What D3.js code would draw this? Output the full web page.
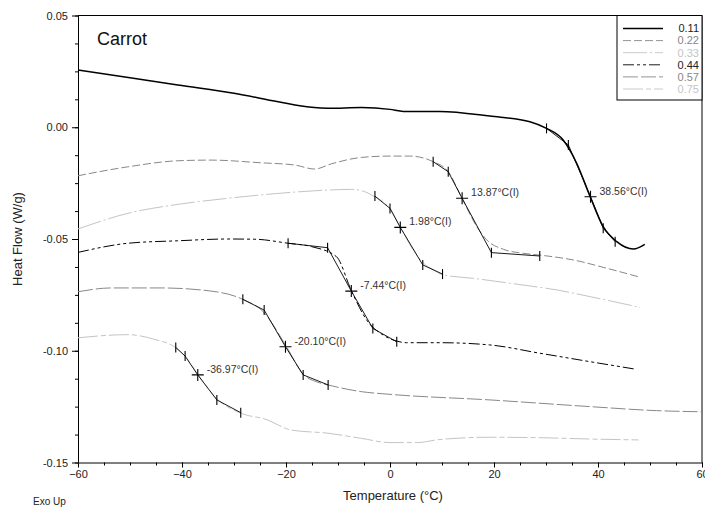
<!DOCTYPE html>
<html>
<head>
<meta charset="utf-8">
<script src="https://cdn.jsdelivr.net/npm/d3@7"></script>
<style>
  body { margin: 0; background: #fff; }
  svg { font-family: "Liberation Sans", Arial, sans-serif; }
</style>
</head>
<body>
<div class="container"></div>
<script>
"use strict";

// legend labels (water activity) and line looks
const seriesNames = ["0.11", "0.22", "0.33", "0.44", "0.57", "0.75"];

// curves: [temperature °C, heat flow W/g]
const c011 = [[-60, 0.0256], [-50, 0.0222], [-40.8, 0.0189], [-30, 0.0152], [-21.5, 0.0114], [-15.1, 0.0089], [-11.9, 0.0085], [-5.5, 0.0088], [0, 0.008], [2.6, 0.0071], [9.6, 0.0071], [19.2, 0.005], [26.9, 0.0025], [30.1, -0.0005], [33.3, -0.0057], [35.9, -0.0161], [38.5, -0.0311], [41.0, -0.0445], [43.6, -0.0512], [46.8, -0.0545], [49.0, -0.0524]];
const c022 = [[-60, -0.0217], [-50.4, -0.0177], [-40.8, -0.015], [-34.4, -0.0147], [-24.8, -0.0159], [-18.3, -0.0169], [-14.5, -0.0187], [-11.3, -0.0164], [-5.5, -0.0135], [0, -0.0129], [3.8, -0.0129], [8.3, -0.0154], [11.2, -0.0199], [13.85, -0.0318], [16.7, -0.0445], [18.6, -0.0504], [21.8, -0.0546], [25.6, -0.0564], [28.8, -0.0572], [35.3, -0.0594], [41.7, -0.0631], [48.1, -0.0671]];
const c033 = [[-60, -0.0455], [-50.4, -0.0385], [-40.8, -0.0345], [-31.2, -0.0318], [-21.5, -0.0296], [-11.9, -0.0281], [-7.4, -0.0278], [-4.9, -0.0288], [-3.0, -0.0311], [0, -0.0363], [2.0, -0.0448], [4.5, -0.055], [6.3, -0.0605], [8.5, -0.064], [10.1, -0.066], [16.0, -0.0676], [25.6, -0.0706], [32.1, -0.0728], [38.5, -0.0758], [48.1, -0.0806]];
const c044 = [[-60, -0.056], [-50.4, -0.0519], [-40.8, -0.0508], [-31.2, -0.05], [-26, -0.0501], [-19.6, -0.0519], [-15.1, -0.0534], [-10.3, -0.0579], [-7.4, -0.0733], [-4.5, -0.0862], [-1.3, -0.093], [1.5, -0.0958], [3.2, -0.0964], [9.6, -0.0964], [19.2, -0.0974], [28.8, -0.1011], [38.5, -0.1049], [47.1, -0.1082]];
const c057 = [[-60, -0.0736], [-53.6, -0.0719], [-44.0, -0.0719], [-34.4, -0.0733], [-28.3, -0.077], [-24.4, -0.0825], [-19.9, -0.0982], [-16.7, -0.1105], [-14, -0.114], [-11.9, -0.1153], [-5.5, -0.1183], [0, -0.1195], [19.2, -0.122], [38.5, -0.125], [51.3, -0.1268], [60, -0.1273]];
const c075 = [[-60, -0.0942], [-50.4, -0.0928], [-45.3, -0.0949], [-41.2, -0.0986], [-39.4, -0.1024], [-36.9, -0.1108], [-33.3, -0.1215], [-28.6, -0.128], [-23.5, -0.131], [-21.5, -0.1332], [-19.0, -0.1355], [-11.9, -0.1369], [-5.5, -0.1392], [0, -0.1411], [5.1, -0.1411], [9.6, -0.1397], [19.2, -0.1387], [28.8, -0.1389], [38.5, -0.1395], [47.8, -0.1399]];

// glass transition analysis: onset/tangent points and inflection
const tgLabels = ["38.56°C(I)", "13.87°C(I)", "1.98°C(I)", "-7.44°C(I)", "-20.10°C(I)", "-36.97°C(I)"];
const tgTemps = [
  [30.1, 34.3, 38.56, 41.0, 43.3],
  [8.3, 11.2, 13.87, 19.5, 28.8],
  [-2.9, 0, 1.98, 6.3, 10.1],
  [-19.6, -12.0, -7.44, -3.3, 1.3],
  [-28.3, -24.2, -20.1, -16.7, -11.9],
  [-41.2, -39.4, -36.97, -33.3, -28.7]
];
const tgFlows = [
  [-0.0005, -0.0079, -0.0311, -0.0452, -0.0512],
  [-0.0154, -0.0199, -0.0318, -0.0561, -0.0576],
  [-0.0308, -0.0363, -0.0448, -0.0616, -0.0657],
  [-0.0519, -0.0539, -0.0733, -0.09, -0.096],
  [-0.077, -0.0818, -0.0982, -0.1108, -0.1153],
  [-0.0985, -0.1024, -0.1108, -0.122, -0.1277]
];

const xTicks = [-60, -40, -20, 0, 20, 40, 60];
const yTicks = [0.05, 0, -0.05, -0.1, -0.15];

const makePlot = () => {
  const W = 705, H = 510;
  const left = 78, right = 702, top = 15.5, bottom = 462.5;

  const curves = [c011, c022, c033, c044, c057, c075];
  const strokes = ["#000", "#888", "#c4c4c4", "#000", "#888", "#c4c4c4"];
  const textColors = ["#222", "#888", "#c4c4c4", "#222", "#888", "#c4c4c4"];
  const dashes = ["none", "8,3", "24,3,2,3", "11,3,3,3,3,3", "15,3", "20,3,5,3"];
  const widths = [1.5, 1, 1, 1, 1, 1];

  const x = d3.scaleLinear().domain([-60, 60]).range([left, right]);
  const y = d3.scaleLinear().domain([-0.15, 0.05]).range([bottom, top]);

  const svg = d3.select(".container").append("svg")
    .attr("width", W).attr("height", H);

  // minor ticks
  svg.append("g")
    .attr("transform", "translate(" + left + ",0)")
    .call(d3.axisLeft(y).tickValues(d3.range(0, 17).map(i => 0.05 - i * 0.0125)).tickSize(3).tickFormat(""))
    .call(g => g.select(".domain").remove());
  svg.append("g")
    .attr("transform", "translate(0," + bottom + ")")
    .call(d3.axisBottom(x).tickValues(d3.range(-60, 61, 5)).tickSize(3).tickFormat(""))
    .call(g => g.select(".domain").remove());

  // major axes
  const yAxis = svg.append("g")
    .attr("transform", "translate(" + left + ",0)")
    .call(d3.axisLeft(y).tickValues(yTicks).tickSize(6).tickPadding(4).tickSizeOuter(0)
      .tickFormat(d => d.toFixed(2)));
  const xAxis = svg.append("g")
    .attr("transform", "translate(0," + bottom + ")")
    .call(d3.axisBottom(x).tickValues(xTicks).tickSize(5).tickPadding(3).tickSizeOuter(0));
  [xAxis, yAxis].forEach(g => {
    g.selectAll("text").attr("font-size", 11).attr("fill", "#222")
      .attr("font-family", "'Liberation Sans', Arial, sans-serif");
    g.selectAll("line, path").attr("stroke", "#000");
  });

  // top and right frame
  svg.append("path")
    .attr("d", "M" + left + "," + top + "H" + right + "V" + bottom)
    .attr("fill", "none").attr("stroke", "#000");

  const line = d3.line()
    .x(d => x(d[0])).y(d => y(d[1]))
    .curve(d3.curveMonotoneX);

  svg.append("g").selectAll("path")
    .data(curves)
    .enter()
    .append("path")
    .attr("d", line)
    .attr("fill", "none")
    .attr("stroke", (d, i) => strokes[i])
    .attr("stroke-width", (d, i) => widths[i])
    .attr("stroke-dasharray", (d, i) => dashes[i]);

  // glass transition marks
  const tg = svg.append("g");
  tgTemps.forEach((ts, k) => {
    const pts = ts.map((t, j) => [x(t), y(tgFlows[k][j])]);
    tg.append("path")
      .attr("d", d3.line()(pts))
      .attr("fill", "none").attr("stroke", "#000").attr("stroke-width", 0.9);
    pts.forEach((p, j) => {
      if (j === 2) {
        tg.append("path")
          .attr("d", "M" + (p[0] - 6) + "," + p[1] + "H" + (p[0] + 6) + "M" + p[0] + "," + (p[1] - 6) + "V" + (p[1] + 6))
          .attr("stroke", "#000").attr("stroke-width", 1.1);
      } else {
        tg.append("line")
          .attr("x1", p[0]).attr("x2", p[0])
          .attr("y1", p[1] - 5).attr("y2", p[1] + 5)
          .attr("stroke", "#000").attr("stroke-width", 1.1);
      }
    });
    tg.append("text")
      .attr("x", pts[2][0] + 9).attr("y", pts[2][1] - 2)
      .attr("font-size", 10.5).attr("fill", "#333")
      .text(tgLabels[k]);
  });

  // legend
  const legend = svg.append("g").attr("id", "legend");
  legend.append("rect")
    .attr("x", 617).attr("y", top).attr("width", right - 617).attr("height", 100 - top)
    .attr("fill", "#fff").attr("stroke", "#000");
  const rows = legend.selectAll(".legend-label")
    .data(seriesNames)
    .enter()
    .append("g")
    .attr("class", "legend-label")
    .attr("transform", (d, i) => "translate(0," + (28.5 + i * 12.1) + ")");
  rows.append("line")
    .attr("x1", 623).attr("x2", 663)
    .attr("stroke", (d, i) => strokes[i])
    .attr("stroke-width", (d, i) => widths[i] * 0.9)
    .attr("stroke-dasharray", (d, i) => dashes[i]);
  rows.append("text")
    .attr("x", 699).attr("dy", "0.35em")
    .attr("text-anchor", "end")
    .attr("font-size", 11)
    .attr("fill", (d, i) => textColors[i])
    .text(d => d);

  // titles
  svg.append("text").attr("x", 97).attr("y", 45)
    .attr("font-size", 18).attr("fill", "#111").text("Carrot");
  svg.append("text").attr("x", 393).attr("y", 500)
    .attr("text-anchor", "middle").attr("font-size", 13).attr("fill", "#222")
    .text("Temperature (°C)");
  svg.append("text")
    .attr("transform", "translate(22," + (top + bottom) / 2 + ") rotate(-90)")
    .attr("text-anchor", "middle").attr("font-size", 13).attr("fill", "#222")
    .text("Heat Flow (W/g)");
  svg.append("text").attr("x", 33).attr("y", 505)
    .attr("font-size", 10).attr("fill", "#222").text("Exo Up");
};

makePlot();
</script>
</body>
</html>
